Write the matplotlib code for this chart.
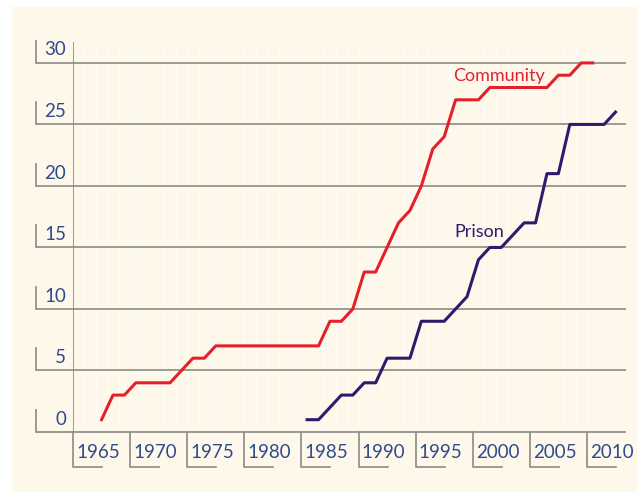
import matplotlib.pyplot as plt
from matplotlib.patches import Rectangle

# данные
years_community = list(range(1965, 2009))
community = [1, 3, 3, 4, 4, 4, 4, 5, 6, 6,
             7, 7, 7, 7, 7, 7, 7, 7, 7, 7,
             9, 9, 10, 13, 13, 15, 17, 18, 20, 23,
             24, 27, 27, 27, 28, 28, 28, 28, 28, 28,
             29, 29, 30, 30]
years_prison = list(range(1983, 2011))
prison = [1, 1, 2, 3, 3, 4, 4, 6, 6, 6,
          9, 9, 9, 10, 11, 14, 15, 15, 16, 17,
          17, 21, 21, 25, 25, 25, 25, 26]
y_ticks = [0, 5, 10, 15, 20, 25, 30]
x_labels = [1965, 1970, 1975, 1980, 1985, 1990, 1995, 2000, 2005, 2010]

text_col = "#2d4b8e"
grid_col = "#8c8a86"
red = "#e4202c"
purple = "#2e1a6c"
bg = "#fef8eb"

plt.rcParams['font.family'] = ['Lato', 'DejaVu Sans']

fig = plt.figure(figsize=(6.37, 4.92), dpi=100)
fig.patches.append(Rectangle((12 / 637, 1 / 492), 625 / 637, 484 / 492,
                             transform=fig.transFigure, color=bg, zorder=-10))
ax = fig.add_axes([73 / 637, 60 / 492, 553 / 637, 390 / 492])
ax.set_zorder(1)
ax.set_facecolor(bg)
ax.set_xlim(1962.5, 2010.92)
ax.set_ylim(0, 31.7)
for s in ax.spines.values():
    s.set_visible(False)
ax.set_xticks([])
ax.set_yticks([])

# белые вертикальные полоски по годам
for yr in range(1963, 2011):
    ax.axvline(yr + 0.5, color="white", lw=0.7, alpha=0.7, zorder=1)

# горизонтальные линии сетки и подписи по оси y
for v in y_ticks:
    ax.plot([1959.26, 2010.92], [v, v], color=grid_col, lw=1.2,
            clip_on=False, zorder=2, solid_capstyle="butt")
    ax.plot([1959.26, 1959.26], [v, v + 1.8], color=grid_col, lw=1.2,
            clip_on=False, zorder=2)
    ax.text(1961.9, v + 1.05, str(v), ha="right", va="center",
            color=text_col, fontsize=13.5)
ax.plot([1962.5, 1962.5], [0, 31.7], color=grid_col, lw=1.2, zorder=2)

# подписи по оси x
for yr in x_labels:
    t = yr - 2.5
    ax.plot([t, t, t + 2.54], [0, -2.85, -2.85], color=grid_col, lw=1.2,
            clip_on=False, zorder=2)
    ax.text(yr - 0.3, -1.7, str(yr), ha="center", va="center",
            color=text_col, fontsize=13.5)

ax.plot(years_community, community, color=red, lw=2.2, zorder=3)
ax.plot(years_prison, prison, color=purple, lw=2.2, zorder=3)

ax.text(1999.8, 28.94, "Community", color=red, fontsize=13,
        ha="center", va="center")
ax.text(1998.1, 16.26, "Prison", color=purple, fontsize=13,
        ha="center", va="center")

fig.savefig("out.png", dpi=100)
